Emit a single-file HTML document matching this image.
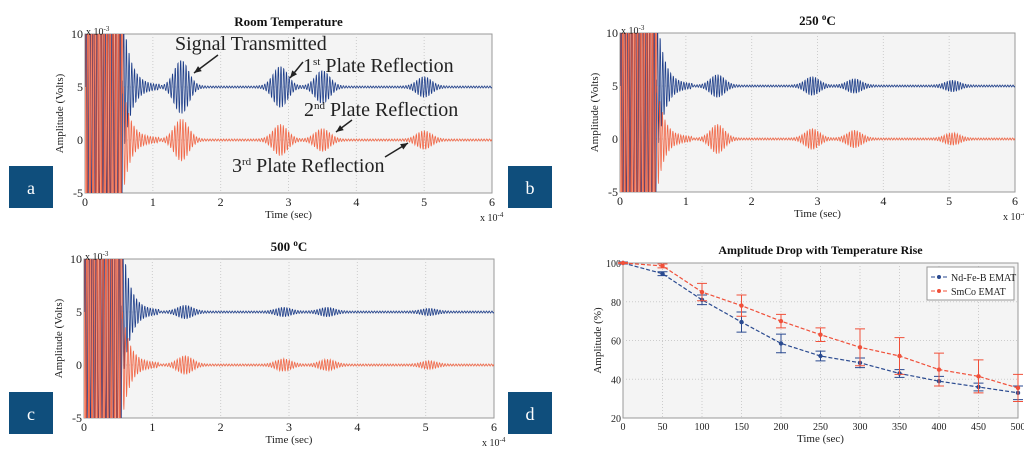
<!DOCTYPE html>
<html><head><meta charset="utf-8"><style>
body{margin:0;width:1024px;height:459px;background:#fff;overflow:hidden;font-family:"Liberation Serif",serif}
svg{position:absolute;left:0;top:0}
</style></head><body>
<svg id="s" width="1024" height="459" font-family="Liberation Serif, serif"></svg>
<script>
// signal panel burst data (centers in 1e-4 s, amplitudes in mV)
const burstCenters=[1.42,2.88,3.5,5.0];
const aBlueAmp=[2.5,1.9,1.5,0.9];
const aRedAmp=[1.9,1.4,1.0,0.8];
const bCenters=[1.48,2.92,3.56,5.05];
const bBlueAmp=[1.0,0.8,0.6,0.45];
const bRedAmp=[1.3,0.9,0.75,0.5];
const cBlueAmp=[0.55,0.35,0.35,0.25];
const cRedAmp=[0.8,0.5,0.45,0.3];
const xTicks=[0,1,2,3,4,5,6];
const yTicks=[-5,0,5,10];
// panel d data
const temps=[0,50,100,150,200,250,300,350,400,450,500];
const ndVals=[100,94.5,81,69.5,58.5,52,48.5,43,39,36,33];
const ndErr=[0.5,1,2.5,5.2,4.8,2.5,2.5,2,2.5,2,3.5];
const smVals=[100,98.5,85,78,70,63,56.5,52,45,41.5,35.5];
const smErr=[0.3,1,4.5,5.5,3.5,3.5,9.5,9.5,8.5,8.5,7];
const dYTicks=[20,40,60,80,100];

const NS='http://www.w3.org/2000/svg';
const svg=document.getElementById('s');
function mk(tag,attrs,parent){const e=document.createElementNS(NS,tag);for(const k in attrs)e.setAttribute(k,attrs[k]);(parent||svg).appendChild(e);return e;}
function txt(x,y,s,attrs,parent){const t=mk('text',Object.assign({x:x,y:y,'font-size':11,fill:'#222'},attrs||{}),parent);t.textContent=s;return t;}

function signalPanel(id,box,title,centers,blueAmp,redAmp){
  const g=mk('g',{});
  
  
  const [x0,y0,x1,y1]=box;
  const sx=v=>x0+(v/6)*(x1-x0);
  const sy=v=>y1-((v+5)/15)*(y1-y0);
  mk('rect',{x:x0,y:y0,width:x1-x0,height:y1-y0,fill:'#f4f4f4',stroke:'#999','stroke-width':1},g);
  const cid='clip'+id;
  const cp=mk('clipPath',{id:cid},g);mk('rect',{x:x0,y:y0,width:x1-x0,height:y1-y0},cp);
  xTicks.forEach(t=>{
    if(t>0&&t<6)mk('line',{x1:sx(t),x2:sx(t),y1:y0,y2:y1,stroke:'#ccc','stroke-dasharray':'1,2'},g);
    const l=txt(sx(t),y1+13,String(t),{'text-anchor':'middle','font-size':12},g);
    
  });
  yTicks.forEach(t=>{
    if(t>-5&&t<10)mk('line',{x1:x0,x2:x1,y1:sy(t),y2:sy(t),stroke:'#ccc','stroke-dasharray':'1,2'},g);
    const l=txt(x0-2,sy(t)+4,String(t),{'text-anchor':'end','font-size':12},g);
    
  });
  const cg=mk('g',{'clip-path':'url(#'+cid+')'},g);
  mk('rect',{x:x0,y:y0,width:sx(0.55)-x0,height:y1-y0,fill:'#f7a58f'},cg);
  function series(offset,amps,color,sat,phase,satFreq){
    let d='';
    for(let i=0;i<=1500;i++){
      const t=i*0.004;
      let a=0;
      if(t<0.56)a=sat;
      else if(t<1.1)a=(offset>0?7:5)*Math.exp(-(t-0.56)*9)+0.1;
      centers.forEach((c,k)=>{a+=amps[k]*Math.exp(-Math.pow((t-c)/0.15,2));});
      a+=0.1;
      const v=offset+a*Math.sin(t*2*Math.PI*(t<0.56?satFreq:25)+phase);
      d+=(i?'L':'M')+sx(t).toFixed(1)+','+sy(Math.max(-8,Math.min(13,v))).toFixed(1);
    }
    return mk('path',{d:d,fill:'none',stroke:color,'stroke-width':0.8},cg);
  }
  const bl=series(5,blueAmp,'#1f3f8a',12,0,18);
  
  
  const rd=series(0,redAmp,'#f0502a',40,1,22);
  
  
  rd.setAttribute('stroke-opacity','0.85');
  const tt=txt((x0+x1)/2,y0-8,'',{'text-anchor':'middle','font-size':13,'font-weight':'bold',fill:'#111'},g);
  tt.innerHTML=title;
  
  txt(x0+1,y0+1,'',{'font-size':10},g).innerHTML='x 10<tspan dy="-4" font-size="7">-3</tspan>';
  txt(x1-12,y1+28,'',{'font-size':10},g).innerHTML='x 10<tspan dy="-4" font-size="7">-4</tspan>';
  const xl=txt((x0+x1)/2,y1+25,'Time (sec)',{'text-anchor':'middle','font-size':11},g);
  
  const yl=txt(0,0,'Amplitude (Volts)',{'text-anchor':'middle','font-size':11,transform:'translate('+(x0-22)+','+((y0+y1)/2)+') rotate(-90)'},g);
  
}
signalPanel('a',[85,34,492,193],'Room Temperature',burstCenters,aBlueAmp,aRedAmp);
signalPanel('b',[620,33,1015,192],'250 <tspan dy="-5" font-size="9">o</tspan><tspan dy="5">C</tspan>',bCenters,bBlueAmp,bRedAmp);
signalPanel('c',[84,259,494,418],'500 <tspan dy="-5" font-size="9">o</tspan><tspan dy="5">C</tspan>',bCenters,cBlueAmp,cRedAmp);

// annotations panel a
const ann=[[175,50,'Signal Transmitted',''],[303,72,'1','st Plate Reflection'],[304,116,'2','nd Plate Reflection'],[232,172,'3','rd Plate Reflection']];
ann.forEach(a=>{
  const t=txt(a[0],a[1],'',{'font-size':20,fill:'#222'});
  t.innerHTML=a[3]?a[2]+'<tspan dy="-7" font-size="11">'+a[3].split(' ')[0]+'</tspan><tspan dy="7"> '+a[3].split(' ').slice(1).join(' ')+'</tspan>':a[2];
  
  
});
[[218,55,194,73],[303,62,290,78],[352,120,336,132],[385,157,408,143]].forEach(l=>{
  mk('line',{x1:l[0],y1:l[1],x2:l[2],y2:l[3],stroke:'#222','stroke-width':1.5});
  const ang=Math.atan2(l[3]-l[1],l[2]-l[0]);
  const p=[[l[2],l[3]],[l[2]-8*Math.cos(ang-0.4),l[3]-8*Math.sin(ang-0.4)],[l[2]-8*Math.cos(ang+0.4),l[3]-8*Math.sin(ang+0.4)]];
  mk('polygon',{points:p.map(q=>q.join(',')).join(' '),fill:'#222'});
});

// panel labels
[['a',9,166],['b',508,166],['c',9,392],['d',508,392]].forEach(b=>{
  const g=mk('g',{});
  
  
  mk('rect',{x:b[1],y:b[2],width:44,height:42,fill:'#0f4e7c'},g);
  txt(b[1]+22,b[2]+28,b[0],{'text-anchor':'middle','font-size':18,fill:'#fff'},g);
});

// panel d
(function(){
  const x0=623,x1=1018,y0=263,y1=418;
  const sx=v=>x0+v/500*(x1-x0);
  const sy=v=>y1-(v-20)/80*(y1-y0);
  const g=mk('g',{});
  
  
  mk('rect',{x:x0,y:y0,width:x1-x0,height:y1-y0,fill:'#f4f4f4',stroke:'#999'},g);
  temps.forEach(t=>{
    if(t>0&&t<500)mk('line',{x1:sx(t),x2:sx(t),y1:y0,y2:y1,stroke:'#ccc','stroke-dasharray':'1,2'},g);
    const l=txt(sx(t),y1+12,String(t),{'text-anchor':'middle','font-size':10},g);
    
  });
  dYTicks.forEach(t=>{
    if(t>20&&t<100)mk('line',{x1:x0,x2:x1,y1:sy(t),y2:sy(t),stroke:'#ccc','stroke-dasharray':'1,2'},g);
    const l=txt(x0-2,sy(t)+4,String(t),{'text-anchor':'end','font-size':10},g);
    
  });
  function ser(vals,err,color,name){
    const sg=mk('g',{},g);
    
    
    mk('path',{d:temps.map((t,i)=>(i?'L':'M')+sx(t)+','+sy(vals[i])).join(''),fill:'none',stroke:color,'stroke-width':1.2,'stroke-dasharray':'4,2'},sg);
    temps.forEach((t,i)=>{
      const x=sx(t),a=sy(vals[i]+err[i]),b=sy(vals[i]-err[i]);
      mk('path',{d:'M'+x+','+a+'L'+x+','+b+'M'+(x-5)+','+a+'L'+(x+5)+','+a+'M'+(x-5)+','+b+'L'+(x+5)+','+b,stroke:color,fill:'none','stroke-width':1},sg);
      mk('circle',{cx:x,cy:sy(vals[i]),r:2.2,fill:color},sg);
    });
  }
  ser(ndVals,ndErr,'#2a4a90','nd-fe-b-series');
  ser(smVals,smErr,'#f0503a','smco-series');
  const tt=txt((x0+x1)/2,y0-9,'Amplitude Drop with Temperature Rise',{'text-anchor':'middle','font-size':12,'font-weight':'bold',fill:'#111'},g);
  
  const xl=txt((x0+x1)/2,y1+24,'Time (sec)',{'text-anchor':'middle','font-size':11},g);
  
  const yl=txt(0,0,'Amplitude (%)',{'text-anchor':'middle','font-size':11,transform:'translate('+(x0-22)+','+((y0+y1)/2)+') rotate(-90)'},g);
  
  const lg=mk('g',{},g);
  
  
  mk('rect',{x:927,y:267,width:87,height:33,fill:'#fff',stroke:'#999'},lg);
  mk('line',{x1:931,x2:948,y1:277,y2:277,stroke:'#2a4a90','stroke-dasharray':'4,2'},lg);
  mk('circle',{cx:939,cy:277,r:2,fill:'#2a4a90'},lg);
  txt(951,281,'Nd-Fe-B EMAT',{'font-size':10},lg);
  mk('line',{x1:931,x2:948,y1:291,y2:291,stroke:'#f0503a','stroke-dasharray':'4,2'},lg);
  mk('circle',{cx:939,cy:291,r:2,fill:'#f0503a'},lg);
  txt(951,295,'SmCo EMAT',{'font-size':10},lg);
})();
</script>
</body></html>
